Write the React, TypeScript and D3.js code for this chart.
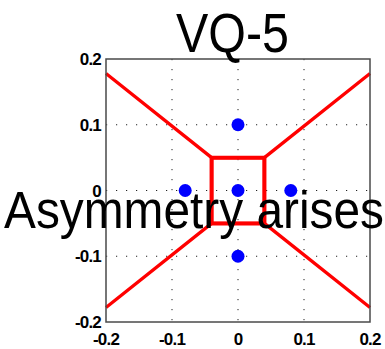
import React, { useEffect, useRef } from "react";
import * as d3 from "d3";

// codebook vectors (VQ with 5 codewords)
const codeX = [0, -0.08, 0, 0.08, 0];
const codeY = [0.1, 0, 0, 0, -0.1];
const xTicks = [-0.2, -0.1, 0, 0.1, 0.2];
const yTicks = [-0.2, -0.1, 0, 0.1, 0.2];
const domain = [-0.2, 0.2];
const title = "VQ-5";
const caption = "Asymmetry arises";

const App = () => {
  const ref = useRef<SVGSVGElement>(null);

  useEffect(() => {
    const svg = d3.select(ref.current);
    svg.selectAll("*").remove();

    const left = 106, right = 370, top = 59, bottom = 322;
    const x = d3.scaleLinear().domain(domain).range([left, right]);
    const y = d3.scaleLinear().domain(domain).range([bottom, top]);

    const pts: [number, number][] = codeX.map((v, i) => [v, codeY[i]]);

    // dotted grid
    const grid = svg.append("g")
      .attr("stroke", "#222")
      .attr("stroke-width", 1)
      .attr("stroke-dasharray", "1.2,8.8");
    grid.selectAll(".gx")
      .data(xTicks.slice(1, -1))
      .enter()
      .append("line")
      .attr("x1", d => x(d)).attr("x2", d => x(d))
      .attr("y1", top).attr("y2", bottom);
    grid.selectAll(".gy")
      .data(yTicks.slice(1, -1))
      .enter()
      .append("line")
      .attr("y1", d => y(d)).attr("y2", d => y(d))
      .attr("x1", left).attr("x2", right);

    // voronoi edges, projected through the scales
    const vor = d3.Delaunay.from(pts).voronoi([-0.2, -0.2, 0.2, 0.2]);
    const p = d3.path();
    const ctx = {
      moveTo: (a: number, b: number) => p.moveTo(x(a), y(b)),
      lineTo: (a: number, b: number) => p.lineTo(x(a), y(b)),
      closePath: () => p.closePath(),
    };
    vor.render(ctx as any);
    svg.append("path")
      .attr("d", p.toString())
      .attr("fill", "none")
      .attr("stroke", "#ff0000")
      .attr("stroke-width", 3.3)
      .attr("stroke-linejoin", "round");

    const cell = vor.cellPolygon(2);
    svg.append("path")
      .attr("d", d3.line<[number, number]>().x(d => x(d[0])).y(d => y(d[1]))(cell as any) + "Z")
      .attr("fill", "none")
      .attr("stroke", "#ff0000")
      .attr("stroke-width", 4);

    // frame
    svg.append("rect")
      .attr("x", left).attr("y", top)
      .attr("width", right - left).attr("height", bottom - top)
      .attr("fill", "none")
      .attr("stroke", "#4a4a4a")
      .attr("stroke-width", 1.5);

    // codewords
    svg.selectAll(".pt")
      .data(pts)
      .enter()
      .append("circle")
      .attr("cx", d => x(d[0]))
      .attr("cy", d => y(d[1]))
      .attr("r", 6.5)
      .attr("fill", "#0000ff");

    // tick labels
    const fmt = (d: number) => (d === 0 ? "0" : d3.format(".1f")(d).replace("−", "-"));
    svg.selectAll(".xl")
      .data(xTicks)
      .enter()
      .append("text")
      .attr("x", d => x(d))
      .attr("y", 345)
      .attr("text-anchor", "middle")
      .attr("font-family", "Liberation Sans, Arial, sans-serif")
      .attr("font-weight", "bold")
      .attr("font-size", 17)
      .attr("letter-spacing", -0.8)
      .text(fmt);
    svg.selectAll(".yl")
      .data(yTicks)
      .enter()
      .append("text")
      .attr("x", 101)
      .attr("y", d => y(d) + 6)
      .attr("text-anchor", "end")
      .attr("font-family", "Liberation Sans, Arial, sans-serif")
      .attr("font-weight", "bold")
      .attr("font-size", 17)
      .attr("letter-spacing", -0.8)
      .text(fmt);

    svg.append("text")
      .attr("x", 176)
      .attr("y", 52)
      .attr("font-family", "Liberation Sans, Arial, sans-serif")
      .attr("font-size", 56)
      .attr("textLength", 113)
      .attr("lengthAdjust", "spacingAndGlyphs")
      .text(title);

    svg.append("text")
      .attr("x", 4)
      .attr("y", 228)
      .attr("font-family", "Liberation Sans, Arial, sans-serif")
      .attr("font-size", 51)
      .attr("textLength", 380)
      .attr("lengthAdjust", "spacingAndGlyphs")
      .text(caption);
  }, []);

  return (
    <svg
      ref={ref}
      width={385}
      height={349}
      style={{ position: "absolute", left: 0, top: 0, background: "#fff" }}
    ></svg>
  );
};

export default App;
